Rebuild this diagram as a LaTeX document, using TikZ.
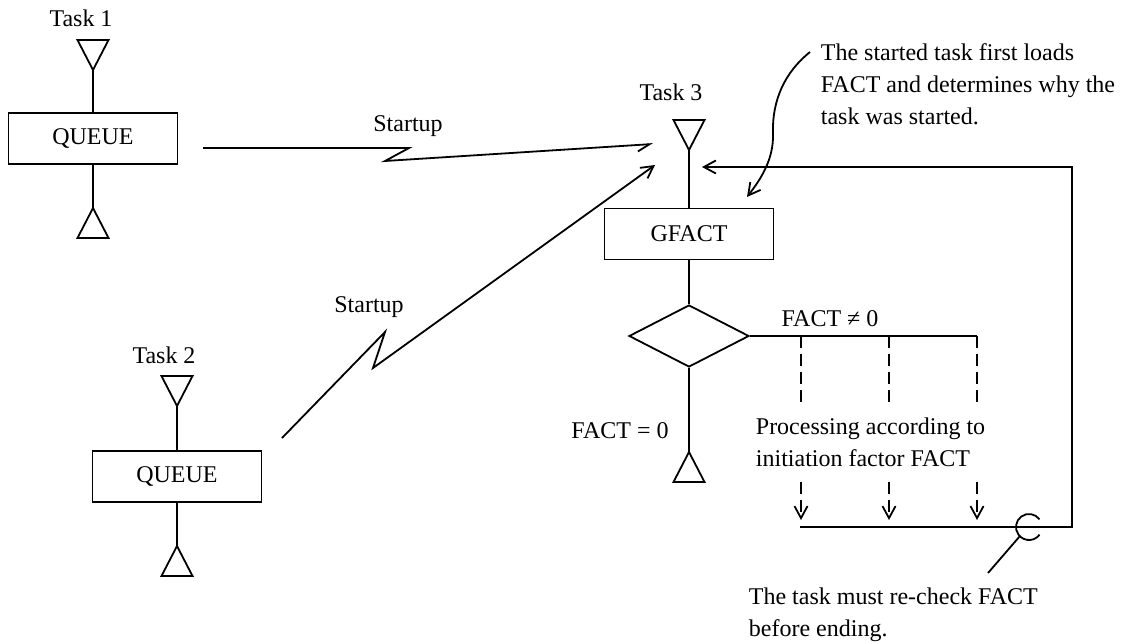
\documentclass[tikz,border=0pt]{standalone}
\usepackage{fontspec}
\setmainfont{Liberation Serif}
\usetikzlibrary{shapes.geometric,arrows.meta,calc}
\begin{document}
\begin{tikzpicture}[x=1pt,y=-1pt, line width=1.8pt,
  font=\fontsize{24}{32}\selectfont,
  box/.style={draw, minimum width=169pt, minimum height=51pt, inner sep=0pt},
  dia/.style={draw, diamond, minimum width=120pt, minimum height=62pt, inner sep=0pt},
  lbl/.style={inner sep=0pt, anchor=base},
  note/.style={inner sep=0pt, align=left, anchor=north west},
  arr/.style={-{Straight Barb[length=12pt,width=13pt]}},
  harp/.style={-{Straight Barb[length=12pt,width=13pt,harpoon,swap]}},
  dsh/.style={dash pattern=on 12pt off 6pt},
]
\useasboundingbox (0,0) rectangle (1121,642);

% ---------- Task 1 ----------
\node[lbl] (task1) at (81,27) {Task 1};
\coordinate (t1) at (93,70);
\draw (t1) -- ++(-15.5,-30) -- ++(31,0) -- cycle;
\node[box] (q1) at (93,138.5) {QUEUE};
\coordinate (b1) at (93,208);
\draw (b1) -- ++(-15.5,30) -- ++(31,0) -- cycle;
\draw (t1) -- (q1.north);
\draw (q1.south) -- (b1);

% ---------- Task 2 ----------
\node[lbl] (task2) at (164,363) {Task 2};
\coordinate (t2) at (177,406);
\draw (t2) -- ++(-15.5,-30) -- ++(31,0) -- cycle;
\node[box] (q2) at (177,476.5) {QUEUE};
\coordinate (b2) at (177,546);
\draw (b2) -- ++(-15.5,30) -- ++(31,0) -- cycle;
\draw (t2) -- (q2.north);
\draw (q2.south) -- (b2);

% ---------- Task 3 ----------
\node[lbl] (task3) at (671,100) {Task 3};
\coordinate (t3) at (689,150);
\draw (t3) -- ++(-15.5,-30) -- ++(31,0) -- cycle;
\node[box] (gf) at (689,234) {GFACT};
\node[dia] (d) at (689,336) {};
\coordinate (b3) at (689,452);
\draw (b3) -- ++(-15.5,30) -- ++(31,0) -- cycle;
\draw (t3) -- (gf.north);
\draw (gf.south) -- (d.north);
\draw (d.south) -- (b3);
\node[lbl] (f0) at (620,438) {FACT = 0};
\node[lbl] (fn0) at (830,326) {FACT ≠ 0};

% branches
\coordinate (br1) at (801,336);
\coordinate (br2) at (889,336);
\coordinate (br3) at (977,336);
\draw (d.east) -- (br3);
\coordinate (br1e) at (801,403);
\coordinate (br2e) at (889,403);
\coordinate (br3e) at (977,403);
\draw[dsh] (br1) -- (br1e);
\draw[dsh] (br2) -- (br2e);
\draw[dsh] (br3) -- (br3e);
\node[note] (proc) at (755,416.6) {Processing according to\\initiation factor FACT};
\coordinate (ar1s) at (801,482);
\coordinate (ar2s) at (889,482);
\coordinate (ar3s) at (977,482);
\coordinate (ar1e) at (801,520);
\coordinate (ar2e) at (889,520);
\coordinate (ar3e) at (977,520);
\draw[dsh,arr] (ar1s) -- (ar1e);
\draw[dsh,arr] (ar2s) -- (ar2e);
\draw[dsh,arr] (ar3s) -- (ar3e);

% merge line and return loop
\coordinate (m0) at (800,527);
\coordinate (m1) at (1072,527);
\coordinate (m2) at (1072,167);
\coordinate (m3) at (702,167);
\draw[arr] (m0) -- (m1) -- (m2) -- (m3);
\coordinate (cc) at (1029,527);
\draw (cc) ++(-36:13) arc[start angle=-36, end angle=-324, radius=13];
\coordinate (cp) at (988,573);
\draw ($(cc)+(135:13)$) -- (cp);
\node[note] (end) at (748,586.6) {The task must re-check FACT\\before ending.};

% annotation top right
\node[note] (ann) at (820,42.6) {The started task first loads\\FACT and determines why the\\task was started.};
\coordinate (cv0) at (810,52);
\coordinate (cv1) at (773,133);
\coordinate (cv2) at (747,197);
\draw[arr] (cv0) .. controls (785,72) and (772,100) .. (cv1) .. controls (774,160) and (760,180) .. (cv2);

% Startup arrows
\node[lbl] (su1) at (408,131) {Startup};
\coordinate (s1a) at (203,148);
\coordinate (s1b) at (409,148);
\coordinate (s1c) at (385,161);
\coordinate (s1d) at (653,144);
\draw[harp] (s1a) -- (s1b) -- (s1c) -- (s1d);

\node[lbl] (su2) at (369,312) {Startup};
\coordinate (s2a) at (282,438);
\coordinate (s2b) at (385,332);
\coordinate (s2c) at (373,368);
\coordinate (s2d) at (655,165);
\draw[arr] (s2a) -- (s2b) -- (s2c) -- (s2d);
\end{tikzpicture}
\end{document}
